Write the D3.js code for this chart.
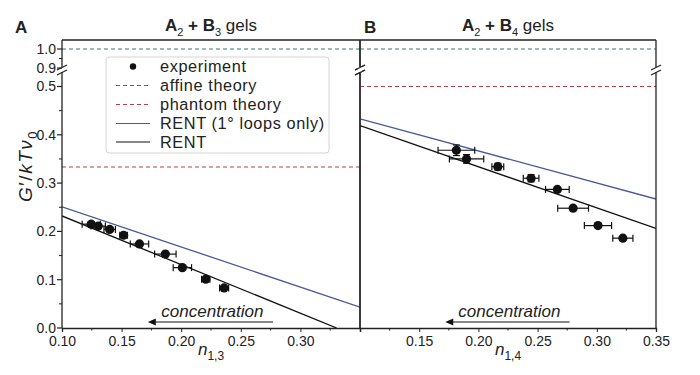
<!DOCTYPE html>
<html><head><meta charset="utf-8">
<script src="https://cdn.jsdelivr.net/npm/d3@7"></script>
<style>body{margin:0;background:#fff} text{font-family:"Liberation Sans",Arial,sans-serif;fill:#222}</style>
</head><body><svg id="c" width="700" height="375"></svg>
<script>
// ---- data ----
const xTicksA = [0.10, 0.15, 0.20, 0.25, 0.30];
const xTicksB = [0.15, 0.20, 0.25, 0.30, 0.35];
const xMinor = [0.125, 0.175, 0.225, 0.275, 0.325];
const yTicksLow = [0.0, 0.1, 0.2, 0.3, 0.4, 0.5];
const yTicksUp = [0.9, 1.0];
const yMinorLow = [0.05, 0.15, 0.25, 0.35, 0.45];
const yMinorUp = [0.95];

const nA  = [0.1245, 0.1304, 0.140, 0.1517, 0.165, 0.1867, 0.201, 0.2206, 0.236];
const gA  = [0.215, 0.211, 0.204, 0.192, 0.174, 0.153, 0.125, 0.101, 0.083];
const exA = [0.0076, 0.006, 0.0048, 0.0032, 0.0077, 0.009, 0.0077, 0.0035, 0.0038];
const eyA = [0.005, 0.004, 0.004, 0.003, 0.003, 0.002, 0.003, 0.003, 0.003];

const nB  = [0.1814, 0.190, 0.2164, 0.2445, 0.2667, 0.280, 0.301, 0.322];
const gB  = [0.368, 0.350, 0.334, 0.310, 0.287, 0.248, 0.212, 0.186];
const exB = [0.0155, 0.0145, 0.005, 0.0066, 0.010, 0.013, 0.0115, 0.0085];
const eyB = [0.011, 0.009, 0.007, 0.0075, 0.003, 0.003, 0.003, 0.003];

const rentA  = [[0.10, 0.232], [0.3304, 0.0]];
const rent1A = [[0.10, 0.251], [0.35, 0.043]];
const rentB  = [[0.10, 0.419], [0.35, 0.206]];
const rent1B = [[0.10, 0.433], [0.35, 0.267]];
const affine = 1.0;
const phantomA = 1/3;
const phantomB = 0.5;
const arrowSpan = [0.277, 0.172];

const legendItems = ["experiment", "affine theory", "phantom theory", "RENT (1° loops only)", "RENT"];

// ---- layout ----
const svg = d3.select("#c");
const yTop = 40, yBottom = 328;
const xA = d3.scaleLinear().domain([0.10, 0.35]).range([62, 360]);
const xB = d3.scaleLinear().domain([0.10, 0.35]).range([360, 656]);
const yLow = d3.scaleLinear().domain([0, 0.5]).range([328, 86.5]);
const yUp = d3.scaleLinear().domain([0.9, 1.0]).range([68, 49]);
const y = v => v >= 0.7 ? yUp(v) : yLow(v);

const cAff = "#2f7d6d", cPh = "#b0404c", cBlue = "#4a5893";

function breakMark(bx, by) {
  svg.append("rect").attr("x", bx - 2).attr("y", by - 3).attr("width", 4).attr("height", 5).attr("fill", "#fff");
  [-2.5, 2.5].forEach(o => svg.append("line").attr("x1", bx - 5).attr("x2", bx + 5).attr("y1", by + o + 2.5).attr("y2", by + o - 2.5).attr("stroke", "#222").attr("stroke-width", 1.2));
}

function panel(x, xt, data, lines, phantom, xsub) {
  const g = svg.append("g");
  const [x0, x1] = x.range();
  g.append("line").attr("x1", x0).attr("x2", x1).attr("y1", y(affine)).attr("y2", y(affine))
    .attr("stroke", cAff).attr("stroke-width", 1).attr("stroke-dasharray", "4,3");
  g.append("line").attr("x1", x0).attr("x2", x1).attr("y1", y(phantom)).attr("y2", y(phantom))
    .attr("stroke", cPh).attr("stroke-width", 1).attr("stroke-dasharray", "4,3");
  const clipId = "clip" + Math.round(x0);
  svg.append("clipPath").attr("id", clipId).append("rect")
    .attr("x", x0).attr("y", yTop).attr("width", x1 - x0).attr("height", yBottom - yTop);
  const line = d3.line().x(d => x(d[0])).y(d => y(d[1]));
  g.append("path").attr("d", line(lines[1])).attr("stroke", cBlue).attr("stroke-width", 1.3).attr("fill", "none").attr("clip-path", `url(#${clipId})`);
  g.append("path").attr("d", line(lines[0])).attr("stroke", "#111").attr("stroke-width", 1.3).attr("fill", "none").attr("clip-path", `url(#${clipId})`);
  const [ns, gs, exs, eys] = data;
  ns.forEach((n, i) => {
    const cx = x(n), cy = y(gs[i]);
    const xl = x(n - exs[i]), xr = x(n + exs[i]);
    g.append("line").attr("x1", xl).attr("x2", xr).attr("y1", cy).attr("y2", cy).attr("stroke", "#111").attr("stroke-width", 1.2);
    [xl, xr].forEach(xx => g.append("line").attr("x1", xx).attr("x2", xx).attr("y1", cy - 3.5).attr("y2", cy + 3.5).attr("stroke", "#111").attr("stroke-width", 1.2));
    const yt = y(gs[i] + eys[i]), yb = y(gs[i] - eys[i]);
    g.append("line").attr("x1", cx).attr("x2", cx).attr("y1", yt).attr("y2", yb).attr("stroke", "#111").attr("stroke-width", 1.2);
    [yt, yb].forEach(yy => g.append("line").attr("x1", cx - 3.5).attr("x2", cx + 3.5).attr("y1", yy).attr("y2", yy).attr("stroke", "#111").attr("stroke-width", 1.2));
    g.append("circle").attr("cx", cx).attr("cy", cy).attr("r", 4.6).attr("fill", "#111");
  });
  g.append("line").attr("x1", x0).attr("x2", x1).attr("y1", yTop).attr("y2", yTop).attr("stroke", "#222").attr("stroke-width", 1.3);
  g.append("line").attr("x1", x0).attr("x2", x0).attr("y1", yTop).attr("y2", yBottom).attr("stroke", "#222").attr("stroke-width", 1.3);
  g.append("line").attr("x1", x1).attr("x2", x1).attr("y1", yTop).attr("y2", yBottom).attr("stroke", "#222").attr("stroke-width", 1.3);
  const ax = g.append("g").attr("transform", `translate(0,${yBottom})`)
    .call(d3.axisBottom(x).tickValues(xt).tickFormat(d3.format(".2f")).tickSize(4).tickPadding(4));
  ax.select(".domain").attr("stroke", "#222").attr("stroke-width", 1.3);
  ax.selectAll("text").attr("font-size", 14).attr("fill", "#222");
  ax.selectAll(".tick line").attr("stroke", "#222");
  xMinor.forEach(v => g.append("line").attr("x1", x(v)).attr("x2", x(v)).attr("y1", yBottom).attr("y2", yBottom + 2.5).attr("stroke", "#222"));
  const xl = g.append("text").attr("x", (x0 + x1) / 2).attr("y", 355).attr("text-anchor", "middle").attr("font-size", 17);
  xl.append("tspan").attr("font-style", "italic").text("n");
  xl.append("tspan").attr("font-size", 12).attr("dy", 5).text(xsub);
  g.append("text").attr("x", (x(arrowSpan[0]) + x(arrowSpan[1])) / 2 + 2).attr("y", 317).attr("text-anchor", "middle")
    .attr("font-size", 17).attr("font-style", "italic").text("concentration");
  const ay = 322;
  g.append("line").attr("x1", x(arrowSpan[0])).attr("x2", x(arrowSpan[1]) + 6).attr("y1", ay).attr("y2", ay).attr("stroke", "#111").attr("stroke-width", 1.2);
  g.append("path").attr("d", `M${x(arrowSpan[1])},${ay} l8,-3.5 l0,7 z`).attr("fill", "#111");
  [x0, x1].forEach(bx => breakMark(bx, 70));
}

panel(xA, xTicksA, [nA, gA, exA, eyA], [rentA, rent1A], phantomA, "1,3");
panel(xB, xTicksB, [nB, gB, exB, eyB], [rentB, rent1B], phantomB, "1,4");

const yx = 62;
const yg = svg.append("g");
[...yTicksLow, ...yTicksUp].forEach(v => {
  yg.append("line").attr("x1", yx - 5).attr("x2", yx).attr("y1", y(v)).attr("y2", y(v)).attr("stroke", "#222").attr("stroke-width", 1.2);
  yg.append("text").attr("x", yx - 6).attr("y", y(v)).attr("dy", "0.35em").attr("text-anchor", "end").attr("font-size", 14).text(d3.format(".1f")(v));
});
[...yMinorLow, ...yMinorUp].forEach(v => {
  yg.append("line").attr("x1", yx - 3).attr("x2", yx).attr("y1", y(v)).attr("y2", y(v)).attr("stroke", "#222");
});

const ylab = svg.append("text").attr("transform", "translate(32,166) rotate(-90)").attr("text-anchor", "middle")
  .attr("font-size", 19).attr("letter-spacing", 1.5);
ylab.append("tspan").attr("font-style", "italic").text("G");
ylab.append("tspan").text("′/");
ylab.append("tspan").attr("font-style", "italic").text("kT");
ylab.append("tspan").attr("font-style", "italic").text("ν");
ylab.append("tspan").attr("font-size", 13).attr("dy", 5).text("0");

function title(cx, sub) {
  const t = svg.append("text").attr("x", cx).attr("y", 31).attr("text-anchor", "middle").attr("font-size", 17);
  t.append("tspan").attr("font-weight", "bold").text("A");
  t.append("tspan").attr("font-size", 11).attr("dy", 5).text("2");
  t.append("tspan").attr("dy", -5).attr("font-weight", "bold").text(" + B");
  t.append("tspan").attr("font-size", 11).attr("dy", 5).text(sub);
  t.append("tspan").attr("dy", -5).text(" gels");
}
title(211, "3");
title(508, "4");
svg.append("text").attr("x", 15).attr("y", 33).attr("font-size", 17).attr("font-weight", "bold").text("A");
svg.append("text").attr("x", 364).attr("y", 33).attr("font-size", 17).attr("font-weight", "bold").text("B");

const lg = svg.append("g");
lg.append("rect").attr("x", 106).attr("y", 57).attr("width", 223).attr("height", 96).attr("rx", 3)
  .attr("fill", "#fff").attr("stroke", "#d4d4d4").attr("stroke-width", 1);
const rowY = [66.5, 85.5, 104.5, 123.5, 142];
const styles = [null, [cAff, "4,3"], [cPh, "4,3"], [cBlue, null], ["#111", null]];
legendItems.forEach((name, i) => {
  const yy = rowY[i];
  if (i === 0) lg.append("circle").attr("cx", 133).attr("cy", yy).attr("r", 3.2).attr("fill", "#111");
  else {
    const l = lg.append("line").attr("x1", 116).attr("x2", 150).attr("y1", yy).attr("y2", yy)
      .attr("stroke", styles[i][0]).attr("stroke-width", 1.1);
    if (styles[i][1]) l.attr("stroke-dasharray", styles[i][1]);
  }
  lg.append("text").attr("x", 160).attr("y", yy).attr("dy", "0.35em").attr("font-size", 16.3).attr("letter-spacing", 0.6).text(name);
});
</script></body></html>
